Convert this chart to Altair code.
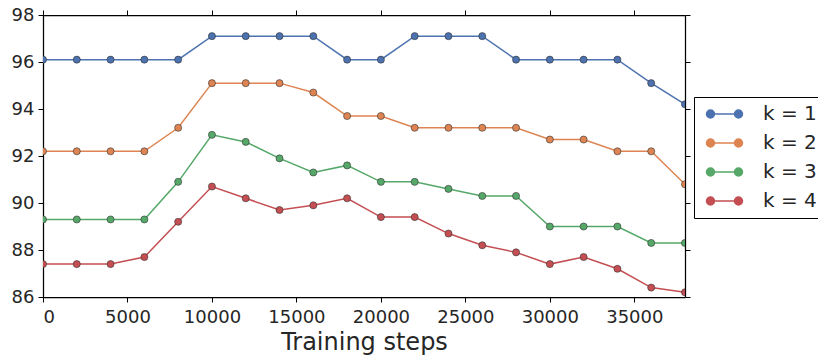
import altair as alt
import pandas as pd

steps = [0, 2000, 4000, 6000, 8000, 10000, 12000, 14000, 16000, 18000,
         20000, 22000, 24000, 26000, 28000, 30000, 32000, 34000, 36000, 38000]
k1 = [96.1, 96.1, 96.1, 96.1, 96.1, 97.1, 97.1, 97.1, 97.1, 96.1,
      96.1, 97.1, 97.1, 97.1, 96.1, 96.1, 96.1, 96.1, 95.1, 94.2]
k2 = [92.2, 92.2, 92.2, 92.2, 93.2, 95.1, 95.1, 95.1, 94.7, 93.7,
      93.7, 93.2, 93.2, 93.2, 93.2, 92.7, 92.7, 92.2, 92.2, 90.8]
k3 = [89.3, 89.3, 89.3, 89.3, 90.9, 92.9, 92.6, 91.9, 91.3, 91.6,
      90.9, 90.9, 90.6, 90.3, 90.3, 89.0, 89.0, 89.0, 88.3, 88.3]
k4 = [87.4, 87.4, 87.4, 87.7, 89.2, 90.7, 90.2, 89.7, 89.9, 90.2,
      89.4, 89.4, 88.7, 88.2, 87.9, 87.4, 87.7, 87.2, 86.4, 86.2]
series_names = ["k = 1", "k = 2", "k = 3", "k = 4"]
colors = ["#4C72B0", "#DD8452", "#55A868", "#C44E52"]
x_ticks = [0, 5000, 10000, 15000, 20000, 25000, 30000, 35000]
y_ticks = [86, 88, 90, 92, 94, 96, 98]

rows = []
for name, vals in zip(series_names, [k1, k2, k3, k4]):
    for s, v in zip(steps, vals):
        rows.append({"step": s, "acc": v, "series": name})
df = pd.DataFrame(rows)

xscale = alt.Scale(domain=[0, 38000], nice=False, zero=False)
yscale = alt.Scale(domain=[86, 98], nice=False, zero=False)

legend_path = ("M-0.41,0L3.59,0"
               "M-0.53,0A0.47,0.47 0 1,0 0.41,0A0.47,0.47 0 1,0 -0.53,0Z"
               "M2.765,0A0.47,0.47 0 1,0 3.705,0A0.47,0.47 0 1,0 2.765,0Z")

color = alt.Color(
    "series:N",
    scale=alt.Scale(domain=series_names, range=colors),
    legend=alt.Legend(
        title=None, orient="none", legendX=651, legendY=82,
        symbolType=legend_path, symbolSize=289, symbolStrokeWidth=1.5,
        labelFontSize=20, labelFont="DejaVu Sans", labelColor="#262626",
        labelOffset=42, rowPadding=9, padding=7,
        strokeColor="black", fillColor="white",
    ),
)

lines = alt.Chart(df).mark_line(strokeWidth=1.5, clip=True).encode(
    x=alt.X("step:Q", scale=xscale,
            axis=alt.Axis(values=x_ticks, title="Training steps", orient="bottom",
                          format="d", labelPadding=6, titlePadding=4)),
    y=alt.Y("acc:Q", scale=yscale,
            axis=alt.Axis(values=y_ticks, title=None, orient="left", labelPadding=4)),
    color=color)

points = alt.Chart(df).mark_point(filled=True, size=50, opacity=1, clip=True,
                                  stroke="#333333", strokeWidth=0.6).encode(
    x=alt.X("step:Q", scale=xscale,
            axis=alt.Axis(values=x_ticks, orient="top", labels=False, title=None)),
    y=alt.Y("acc:Q", scale=yscale,
            axis=alt.Axis(values=y_ticks, orient="right", labels=False, title=None)),
    fill=alt.Fill("series:N", scale=alt.Scale(domain=series_names, range=colors), legend=None))

chart = alt.layer(lines, points).resolve_axis(
    x="independent", y="independent"
).properties(
    width=642, height=282,
    autosize=alt.AutoSizeParams(type="none"),
    padding={"left": 35, "top": 7, "right": 133, "bottom": 58},
).configure_view(stroke=None).configure_axis(
    grid=False, domainColor="black", domainWidth=1.25,
    tickColor="black", tickSize=5, tickWidth=1,
    labelFont="DejaVu Sans", labelFontSize=18, labelColor="#262626",
    titleFont="DejaVu Sans", titleFontSize=24, titleFontWeight="normal", titleColor="#262626",
)

chart.save("out.html", embed_options={"renderer": "svg", "actions": False})
